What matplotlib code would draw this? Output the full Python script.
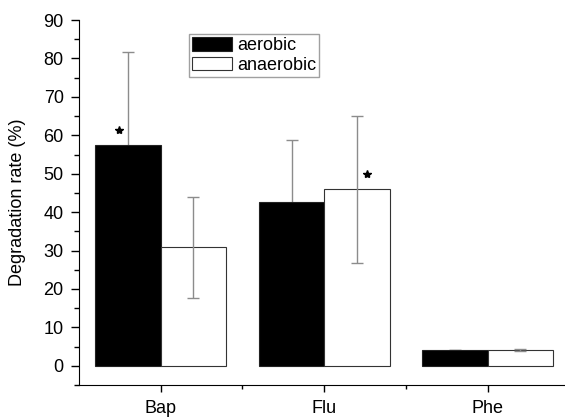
import matplotlib.pyplot as plt
import numpy as np

plt.rcParams['font.family'] = ['Liberation Sans', 'DejaVu Sans']

compounds = ['Bap', 'Flu', 'Phe']
aerobic = [57.6, 42.7, 4.2]
aerobic_err = [24.0, 16.1, 0.0]
anaerobic = [30.8, 45.9, 4.1]
anaerobic_err = [13.1, 19.2, 0.3]
# significance marks: (group index, series offset, height)
stars = [(0, -0.255, 61.5), (1, 0.26, 49.8)]

x = np.arange(len(compounds))
w = 0.4

fig = plt.figure(figsize=(5.65, 4.2), dpi=100)
ax = fig.add_axes([0.1398, 0.0833, 0.8602, 0.869])

ax.errorbar(x - w / 2, aerobic, yerr=aerobic_err, fmt='none', ecolor='#8c8c8c',
            elinewidth=1, capsize=4, capthick=1, zorder=1)
ax.bar(x - w / 2, aerobic, w, color='black', edgecolor='#222222', linewidth=0.8,
       label='aerobic', zorder=2)
ax.bar(x + w / 2, anaerobic, w, color='white', edgecolor='#333333', linewidth=0.8,
       label='anaerobic', zorder=2)
ax.errorbar(x + w / 2, anaerobic, yerr=anaerobic_err, fmt='none', ecolor='#8c8c8c',
            elinewidth=1, capsize=4, capthick=1, zorder=3)

for i, off, h in stars:
    ax.plot(x[i] + off, h, marker='*', color='black', markersize=6, zorder=4)

ax.set_xlim(-0.5, 2.473)
ax.set_ylim(-5, 90)
ax.set_xticks(x)
ax.set_xticklabels(compounds, fontsize=13)
ax.set_xticks([0.5, 1.5], minor=True)
ax.set_yticks(np.arange(0, 91, 10))
ax.set_yticks(np.arange(-5, 90, 5), minor=True)
ax.tick_params(axis='y', which='major', direction='out', length=6, width=1,
               labelsize=13, pad=5)
ax.tick_params(axis='y', which='minor', direction='out', length=3.5, width=1)
ax.tick_params(axis='x', which='major', direction='out', length=5, width=1, pad=6)
ax.tick_params(axis='x', which='minor', direction='out', length=3, width=1)

ax.spines['top'].set_visible(False)
ax.spines['right'].set_visible(False)
ax.set_ylabel('Degradation rate (%)', fontsize=13)
ax.yaxis.set_label_coords(-0.108, 0.5)

leg = ax.legend(loc='upper left', bbox_to_anchor=(0.2263, 0.9616), fontsize=13,
                frameon=True, fancybox=False, edgecolor='#888888',
                handlelength=2.2, handleheight=0.78, borderpad=0.18,
                labelspacing=0.12, handletextpad=0.28, borderaxespad=0)
leg.get_frame().set_linewidth(1)

fig.savefig('out.png', dpi=100)
